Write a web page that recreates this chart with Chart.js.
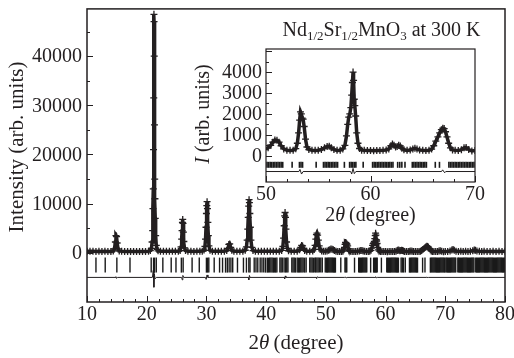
<!DOCTYPE html>
<html>
<head>
<meta charset="utf-8">
<script src="https://cdn.jsdelivr.net/npm/chart.js@4.4.1/dist/chart.umd.min.js"></script>
<style>
  html, body { margin: 0; padding: 0; background: #fff; }
  #wrap { position: relative; width: 514px; height: 358px; }
  #main { position: absolute; left: 0; top: 0; }
  #inset { position: absolute; left: 190px; top: 10px; }
</style>
</head>
<body>
<div id="wrap">
  <canvas id="main" width="514" height="358"></canvas>
  <canvas id="inset" width="310" height="225"></canvas>
</div>
<script>
const obsTwoTheta = [
  10.0, 10.5, 11.0, 11.5, 12.0, 12.5, 13.0, 13.5, 14.0, 14.4,
  14.6, 14.75, 14.85, 14.95, 15.05, 15.2, 15.4,
  15.8, 16.3, 16.8, 17.3, 17.8, 18.3, 18.8, 19.3, 19.8, 20.3, 20.6,
  20.8, 20.9, 21.0, 21.05, 21.1, 21.14, 21.18, 21.21, 21.23, 21.26, 21.3, 21.34, 21.38, 21.43, 21.5, 21.6, 21.75, 21.9,
  22.3, 22.8, 23.3, 23.8, 24.3, 24.8, 25.3, 25.6,
  25.75, 25.85, 25.92, 25.98, 26.03, 26.08, 26.14, 26.22, 26.32, 26.5,
  26.9, 27.4, 27.9, 28.4, 28.9, 29.3, 29.6,
  29.75, 29.85, 29.93, 30.0, 30.06, 30.11, 30.17, 30.24, 30.32, 30.42, 30.6,
  31.0, 31.5, 32.0, 32.5, 33.0, 33.4,
  33.6, 33.75, 33.9, 34.05, 34.25,
  34.6, 35.1, 35.6, 36.1, 36.5,
  36.7, 36.82, 36.92, 37.0, 37.08, 37.14, 37.2, 37.27, 37.35, 37.45, 37.6, 37.8,
  38.2, 38.7, 39.2, 39.7, 40.2, 40.7, 41.2, 41.7, 42.2, 42.6,
  42.8, 42.92, 43.02, 43.1, 43.17, 43.24, 43.32, 43.42, 43.55, 43.75,
  44.2, 44.7, 45.2, 45.6,
  45.8, 45.95, 46.1, 46.25, 46.45,
  46.8, 47.3, 47.8, 48.05,
  48.2, 48.32, 48.42, 48.52, 48.62, 48.74, 48.88, 49.05, 49.3,
  49.6, 49.9,
  50.2, 50.45, 50.65, 50.85, 51.05, 51.25, 51.45, 51.7, 52.0, 52.3, 52.6, 52.85,
  53.0, 53.12, 53.22, 53.3, 53.38, 53.46, 53.55, 53.65, 53.78, 53.92, 54.1,
  54.4, 54.7, 55.0, 55.3, 55.6, 55.85, 56.05, 56.25, 56.5, 56.8, 57.1, 57.35,
  57.55, 57.7, 57.82, 57.92, 58.02, 58.12, 58.2, 58.27, 58.33, 58.38, 58.44, 58.5, 58.58, 58.68, 58.8, 58.95, 59.15,
  59.4, 59.7, 60.0, 60.3, 60.6, 60.9, 61.2, 61.5, 61.75,
  61.95, 62.1, 62.25, 62.4, 62.55, 62.7, 62.85, 63.0, 63.2,
  63.5, 63.8, 64.05, 64.25, 64.45, 64.7, 65.0, 65.3, 65.6, 65.85,
  66.05, 66.25, 66.45, 66.62, 66.78, 66.92, 67.05, 67.18, 67.32, 67.48, 67.65, 67.85,
  68.1, 68.4, 68.7, 68.95, 69.15, 69.4, 69.7, 70.0,
  70.4, 70.8, 71.1, 71.3, 71.5, 71.8, 72.2, 72.6, 73.0, 73.4, 73.8, 74.2, 74.6, 74.85, 75.05, 75.3, 75.7, 76.1, 76.5, 77.0, 77.5, 78.0, 78.5, 79.0, 79.5, 80.0
];
const obsIntensity = [
  320, 300, 310, 290, 300, 280, 300, 290, 280, 380,
  800, 2200, 3500, 3300, 2000, 800, 380,
  300, 280, 290, 270, 280, 260, 280, 270, 290, 320, 450,
  900, 2200, 4500, 9000, 13000, 21000, 31500, 48500, 47000, 40000, 26000, 15000, 11000, 7000, 3500, 1500, 700, 400,
  320, 300, 310, 300, 320, 310, 330, 450,
  1200, 2800, 4500, 6200, 6800, 6000, 4200, 2300, 1000, 450,
  320, 300, 290, 300, 310, 340, 550,
  1300, 2800, 5200, 8000, 9600, 10400, 9000, 6200, 3500, 1400, 500,
  320, 300, 310, 300, 320, 450,
  900, 1700, 1800, 1100, 500,
  330, 310, 300, 330, 520,
  1200, 2600, 4800, 7200, 9500, 10800, 10200, 8000, 5200, 2600, 1100, 450,
  330, 310, 300, 310, 300, 320, 310, 300, 330, 480,
  1300, 3000, 5500, 7500, 8200, 7200, 4800, 2200, 900, 420,
  330, 310, 340, 600,
  1100, 1500, 1400, 900, 480,
  330, 320, 380, 700,
  1500, 2800, 3700, 4000, 3600, 2600, 1400, 700, 380,
  330, 320,
  380, 500, 650, 760, 740, 650, 480, 330, 270, 260, 270, 340,
  600, 1100, 1700, 2100, 2000, 1800, 1750, 1400, 800, 420, 300,
  270, 260, 270, 300, 380, 450, 460, 380, 300, 260, 270, 330,
  500, 950, 1500, 1850, 2000, 2300, 2900, 3500, 4000, 3600, 2700, 2400, 1900, 1100, 600, 350, 270,
  260, 250, 250, 240, 250, 250, 260, 280, 330,
  480, 560, 500, 420, 450, 500, 470, 360, 290,
  260, 280, 330, 360, 320, 280, 260, 250, 260, 320,
  480, 700, 900, 1100, 1250, 1320, 1300, 1150, 900, 600, 380, 280,
  260, 250, 290, 380, 400, 300, 230, 250,
  280, 350, 550, 700, 520, 330, 290, 300, 280, 300, 290, 310, 420, 560, 500, 350, 300, 290, 300, 280, 290, 300, 280, 300, 290, 300
];

// Bragg reflection positions (2theta)
const braggTwoTheta = [
  11.5, 13.05, 15.0, 17.2, 20.75, 21.15, 21.3, 21.6, 22.7, 24.1, 24.9, 25.8, 26.1, 27.6, 28.8,
  30.0, 30.2, 30.4, 31.3, 32.2, 32.7, 33.2, 33.5, 33.8, 34.1, 34.4, 35.2, 36.2, 36.7, 37.1, 37.3,
  38.0, 38.3, 38.6, 39.0, 39.3, 39.6, 39.9, 40.2, 40.4, 40.6, 40.8, 41.0, 41.2, 41.4, 41.6, 41.8,
  42.3, 42.5, 42.7, 43.0, 43.25, 43.45, 43.65, 44.3, 44.5, 44.7, 44.9, 45.2, 45.4, 45.6, 45.8, 46.0,
  46.2, 46.45, 46.7, 47.3, 47.5, 47.7, 47.9, 48.15, 48.3, 48.5, 48.7, 48.9, 49.15, 49.4, 49.9,
  50.1, 50.25, 50.4, 50.55, 50.7, 50.85, 51.0, 51.15, 51.3, 51.45, 51.6, 52.5, 53.2, 53.35, 53.5,
  54.8, 55.5, 55.65, 55.8, 55.95, 56.1, 56.25, 56.4, 56.55, 56.7, 56.85, 57.5, 58.0, 58.15, 58.3,
  58.45, 58.6, 59.3, 60.2, 60.35, 60.5, 60.65, 60.8, 60.95, 61.1, 61.25, 61.4, 61.55, 61.7, 61.85,
  62.0, 62.15, 62.6, 62.8, 63.0, 63.3, 64.0, 64.15, 64.3, 64.45, 64.6, 64.75, 64.9, 65.05, 65.2,
  65.35, 66.2, 66.6, 67.5, 67.65, 67.8, 67.95, 68.1, 68.25, 68.4, 68.55, 68.7, 68.85, 69.0, 69.15,
  69.3, 69.45, 69.6, 69.75, 69.9, 70.1, 70.25, 70.4, 70.55, 70.7,
  70.85, 71.0, 71.15, 71.3, 71.45, 71.6, 71.75, 72.1, 72.25, 72.4, 72.55, 72.7, 72.85, 73.0, 73.15, 73.3,
  73.45, 73.6, 73.75, 73.9, 74.05, 74.2, 74.35, 74.5, 74.65, 74.8, 75.1, 75.25, 75.4, 75.55, 75.7, 75.85,
  76.0, 76.15, 76.3, 76.45, 76.6, 76.75, 76.9, 77.05, 77.2, 77.35, 77.5, 77.65, 77.8, 77.95, 78.1, 78.25,
  78.4, 78.55, 78.7, 78.85, 79.0, 79.15, 79.3, 79.45, 79.6, 79.75, 79.9
];

// difference curve (obs - calc)
const diffTwoTheta = [
  10,
  14.7, 14.85, 14.95, 15.1,
  20.95, 21.1, 21.2, 21.28, 21.4, 21.6,
  25.85, 25.95, 26.05, 26.2,
  29.85, 29.95, 30.1, 30.25,
  37.0, 37.1, 37.2, 37.3,
  43.0, 43.1, 43.2, 43.3,
  48.35, 48.45, 48.6, 48.7,
  53.15, 53.25, 53.4, 53.55,
  58.1, 58.2, 58.33, 58.45, 58.6,
  66.8, 66.9, 67.1, 67.2,
  80
];
const diffIntensity = [
  0,
  0, 150, -200, 0,
  0, 1400, -2000, 700, -300, 0,
  0, -500, 400, 0,
  0, -400, 500, 0,
  0, -500, 400, 0,
  0, -300, 300, 0,
  0, -200, 150, 0,
  0, 100, -120, 0,
  0, -120, 150, -100, 0,
  0, 80, -60, 0,
  0
];

// tick labels of the two panels
const mainXLabels = [10, 20, 30, 40, 50, 60, 70, 80];
const mainYLabels = [0, 10000, 20000, 30000, 40000];
const insetXLabels = [50, 60, 70];
const insetYLabels = [0, 1000, 2000, 3000, 4000];

// where the tick row and difference curve sit in each panel
const mainBraggLevel = -2500;
const mainDiffOffset = -5000;
const insetBraggLevel = -430;
const insetDiffOffset = -750;

const SERIF = '"Liberation Serif", "Times New Roman", serif';
const INK = '#231f20';

const obsPoints = obsTwoTheta.map((x, i) => ({ x, y: obsIntensity[i] }));
const braggPoints = level => braggTwoTheta.map(x => ({ x, y: level }));
const diffPoints = off => diffTwoTheta.map((x, i) => ({ x, y: diffIntensity[i] + off }));

function drawRich(ctx, t) {
  ctx.save();
  ctx.translate(t.x, t.y);
  if (t.rotate) ctx.rotate(t.rotate);
  ctx.textBaseline = 'alphabetic';
  ctx.textAlign = 'left';
  const fontOf = p => (p.italic ? 'italic ' : '') + p.size + 'px ' + SERIF;
  let w = 0;
  t.parts.forEach(p => { ctx.font = fontOf(p); w += ctx.measureText(p.text).width; });
  let cx = -w / 2;
  t.parts.forEach(p => {
    ctx.font = fontOf(p);
    ctx.fillText(p.text, cx, p.dy || 0);
    cx += ctx.measureText(p.text).width;
  });
  ctx.restore();
}

// frame, inward tick marks, tick labels and the mixed-style titles
const decor = {
  id: 'decor',
  afterDraw(chart, args, o) {
    const { ctx, chartArea: a, scales: { x, y } } = chart;
    ctx.save();
    ctx.strokeStyle = INK;
    ctx.lineWidth = o.frameWidth;
    ctx.strokeRect(a.left, a.top, a.right - a.left, a.bottom - a.top);
    ctx.lineWidth = 1;
    ctx.beginPath();
    const isMajor = (v, m) => Math.abs(v / m - Math.round(v / m)) < 1e-6;
    for (let v = x.min; v <= x.max + 1e-6; v += o.xMinor) {
      const px = Math.round(x.getPixelForValue(v)) + 0.5;
      const len = isMajor(v, o.xMajor) ? o.majorLen : o.minorLen;
      ctx.moveTo(px, a.bottom);
      ctx.lineTo(px, a.bottom - len);
    }
    for (let v = o.yFrom; v <= y.max; v += o.yMinor) {
      const py = Math.round(y.getPixelForValue(v)) + 0.5;
      const len = isMajor(v, o.yMajor) ? o.majorLen : o.minorLen;
      ctx.moveTo(a.left, py);
      ctx.lineTo(a.left + len, py);
    }
    ctx.stroke();

    ctx.fillStyle = INK;
    ctx.font = '20px ' + SERIF;
    ctx.textAlign = 'center';
    ctx.textBaseline = 'middle';
    o.xLabels.forEach(v => ctx.fillText(String(v), x.getPixelForValue(v), a.bottom + o.xLabelGap));
    ctx.textAlign = 'right';
    o.yLabels.forEach(v => ctx.fillText(String(v), a.left - o.yLabelGap, y.getPixelForValue(v) + 1));

    (o.texts || []).forEach(t => drawRich(ctx, t));
    ctx.restore();
  }
};

function makeChart(canvas, cfg) {
  return new Chart(canvas, {
    type: 'scatter',
    data: {
      datasets: [
        { data: obsPoints, pointStyle: 'cross', pointRadius: cfg.crossR, borderColor: INK, borderWidth: 1.3, showLine: false },
        { data: obsPoints, showLine: true, pointRadius: 0, borderColor: INK, borderWidth: cfg.lineW, tension: 0 },
        { data: braggPoints(cfg.braggLevel), pointStyle: 'line', rotation: 90, pointRadius: cfg.braggR, borderColor: '#1a1a1a', borderWidth: cfg.braggW, showLine: false },
        { data: diffPoints(cfg.diffOffset), showLine: true, pointRadius: 0, borderColor: INK, borderWidth: 1, tension: 0 }
      ]
    },
    options: {
      responsive: false,
      animation: false,
      events: [],
      layout: { padding: cfg.padding },
      plugins: { legend: { display: false }, tooltip: { enabled: false }, decor: cfg.decor },
      scales: {
        x: {
          type: 'linear', min: cfg.xMin, max: cfg.xMax,
          grid: { display: false, drawTicks: false }, border: { display: false },
          ticks: { display: false },
          afterFit: s => { s.height = cfg.xH; s.paddingLeft = 0; s.paddingRight = 0; }
        },
        y: {
          type: 'linear', min: cfg.yMin, max: cfg.yMax,
          grid: { display: false, drawTicks: false }, border: { display: false },
          ticks: { display: false },
          afterFit: s => { s.width = cfg.yW; s.paddingTop = 0; s.paddingBottom = 0; }
        }
      }
    },
    plugins: [decor]
  });
}

makeChart(document.getElementById('main'), {
  xMin: 10, xMax: 80, yMin: -10000, yMax: 49600,
  padding: { left: 0, top: 4, right: 9, bottom: 0 }, xH: 56, yW: 87,
  crossR: 3.5, lineW: 3.5, braggR: 7.5, braggW: 1.4, braggLevel: mainBraggLevel, diffOffset: mainDiffOffset,
  decor: {
    frameWidth: 1.5, xMinor: 2, xMajor: 10, yFrom: 0, yMinor: 5000, yMajor: 10000, majorLen: 6, minorLen: 3,
    xLabels: mainXLabels, yLabels: mainYLabels, xLabelGap: 13, yLabelGap: 5,
    texts: [
      { x: 23, y: 147, rotate: -Math.PI / 2, parts: [{ text: 'Intensity (arb. units)', size: 21 }] },
      { x: 296, y: 349, parts: [{ text: '2', size: 21 }, { text: 'θ', size: 21, italic: true }, { text: '\u2009(degree)', size: 21 }] }
    ]
  }
});

makeChart(document.getElementById('inset'), {
  xMin: 50, xMax: 70, yMin: -1250, yMax: 5100,
  padding: { left: 0, top: 39, right: 25, bottom: 0 }, xH: 53, yW: 76,
  crossR: 3.5, lineW: 3.5, braggR: 3, braggW: 1.6, braggLevel: insetBraggLevel, diffOffset: insetDiffOffset,
  decor: {
    frameWidth: 1.2, xMinor: 2, xMajor: 10, yFrom: 0, yMinor: 500, yMajor: 1000, majorLen: 6, minorLen: 3,
    xLabels: insetXLabels, yLabels: insetYLabels, xLabelGap: 13, yLabelGap: 4,
    texts: [
      { x: 191.5, y: 26, parts: [
        { text: 'Nd', size: 20 }, { text: '1/2', size: 13, dy: 4 }, { text: 'Sr', size: 20 }, { text: '1/2', size: 13, dy: 4 },
        { text: 'MnO', size: 20 }, { text: '3', size: 13, dy: 4 }, { text: ' at 300 K', size: 20 }] },
      { x: 19, y: 104, rotate: -Math.PI / 2, parts: [{ text: 'I', size: 20, italic: true }, { text: ' (arb. units)', size: 20 }] },
      { x: 180.5, y: 211, parts: [{ text: '2', size: 20 }, { text: 'θ', size: 20, italic: true }, { text: '\u2009(degree)', size: 20 }] }
    ]
  }
});
</script>
</body>
</html>
